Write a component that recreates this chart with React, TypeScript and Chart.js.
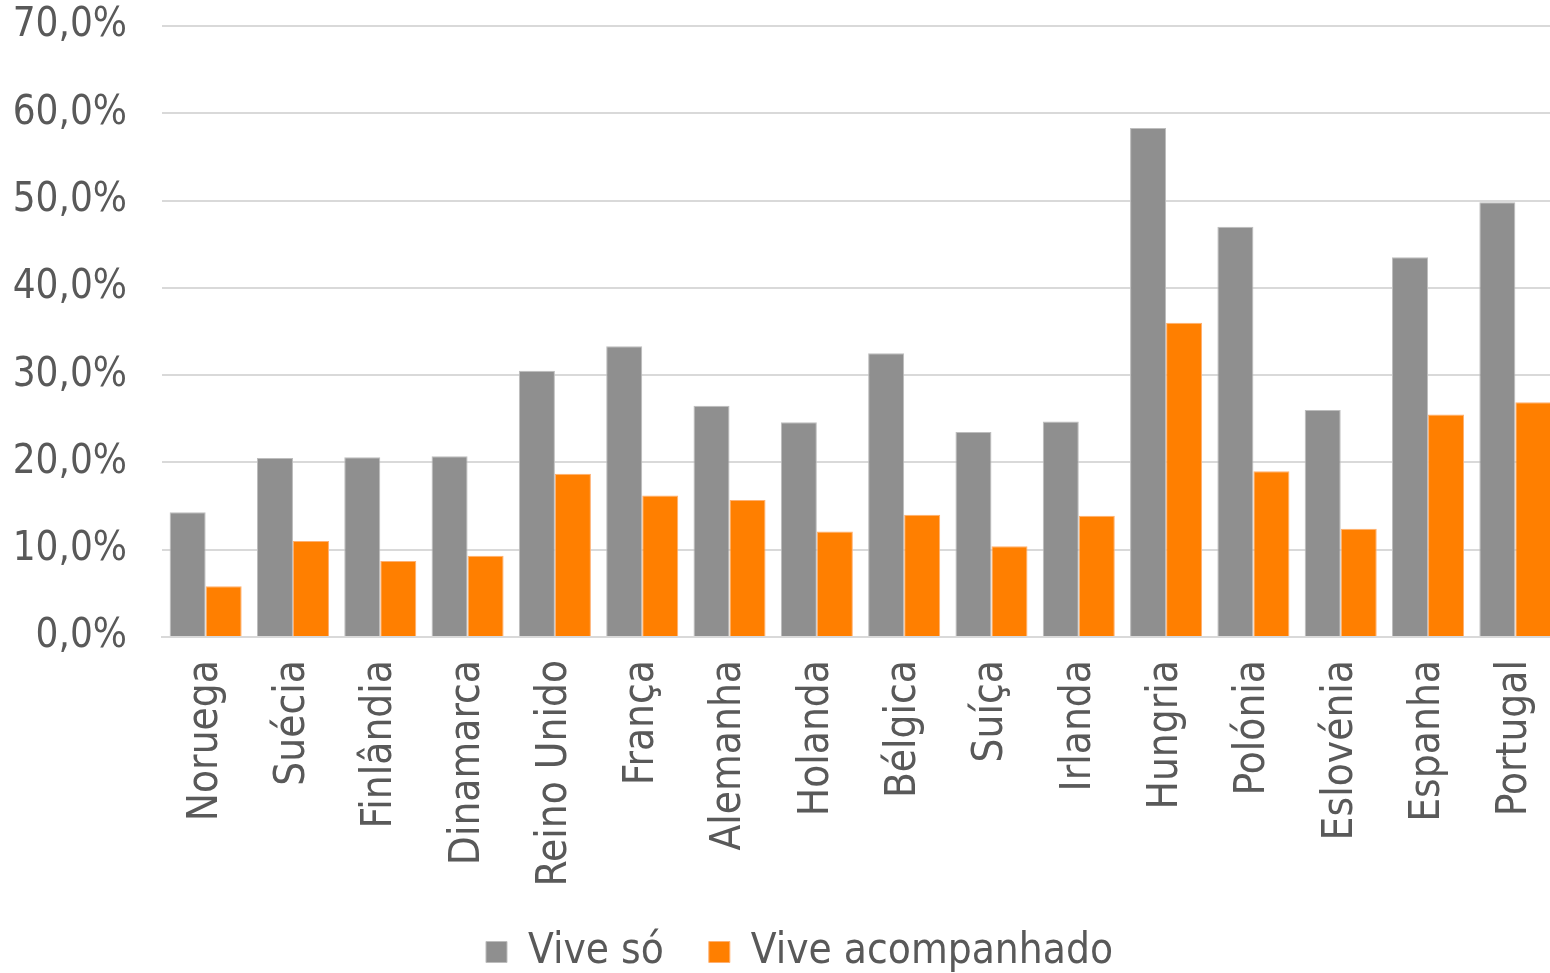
import React, { useEffect, useRef } from "react";
import { Chart, registerables } from "chart.js";

Chart.register(...registerables);

const countries = [
  "Noruega", "Suécia", "Finlândia", "Dinamarca", "Reino Unido", "França",
  "Alemanha", "Holanda", "Bélgica", "Suíça", "Irlanda", "Hungria",
  "Polónia", "Eslovénia", "Espanha", "Portugal",
];

const viveSo = [14.3, 20.5, 20.6, 20.7, 30.5, 33.3, 26.5, 24.6, 32.5, 23.5, 24.7, 58.3, 47.0, 26.0, 43.5, 49.8];
const viveAcompanhado = [5.8, 11.0, 8.7, 9.3, 18.7, 16.2, 15.7, 12.1, 14.0, 10.4, 13.9, 36.0, 19.0, 12.4, 25.5, 26.9];

const seriesNames = ["Vive só", "Vive acompanhado"];
const yTicks = [0, 10, 20, 30, 40, 50, 60, 70];

const FONT = "'DejaVu Sans Condensed', 'DejaVu Sans', sans-serif";
const TEXT = "#595959";

// Nudges the bottom legend a little to the right of the canvas centre.
const legendShift = {
  id: "legendShift",
  afterLayout(chart: any) {
    if (chart.legend) {
      chart.legend.left += 20;
      chart.legend.right += 20;
    }
  },
};

export default function App() {
  const ref = useRef<HTMLCanvasElement | null>(null);

  useEffect(() => {
    if (!ref.current) return;
    const chart = new Chart(ref.current, {
      type: "bar",
      data: {
        labels: countries,
        datasets: [
          {
            label: seriesNames[0],
            data: viveSo,
            backgroundColor: "#8f8f8f",
            borderColor: "#bdbdbd",
            borderWidth: 1,
          },
          {
            label: seriesNames[1],
            data: viveAcompanhado,
            backgroundColor: "#ff7f00",
            borderColor: "#ffb070",
            borderWidth: 1,
          },
        ],
      },
      plugins: [legendShift],
      options: {
        animation: false,
        responsive: false,
        maintainAspectRatio: false,
        datasets: { bar: { categoryPercentage: 0.825, barPercentage: 1 } },
        layout: { padding: { left: 0, right: 1, top: 26, bottom: -10 } },
        plugins: {
          tooltip: { enabled: false },
          legend: {
            position: "bottom",
            labels: {
              font: { family: FONT, size: 42 },
              color: TEXT,
              boxWidth: 21,
              boxHeight: 21,
              padding: 45,
            },
          },
        },
        scales: {
          x: {
            grid: { display: false },
            border: { display: true, color: "#d9d9d9", width: 2 },
            ticks: {
              font: { family: FONT, size: 42 },
              color: TEXT,
              minRotation: 90,
              maxRotation: 90,
              padding: 15,
              autoSkip: false,
            },
            afterFit: (s: any) => {
              s.height = 249;
              s.paddingLeft = 0;
              s.paddingRight = 0;
            },
          },
          y: {
            min: 0,
            max: 70,
            afterBuildTicks: (s: any) => {
              s.ticks = yTicks.map((v) => ({ value: v }));
            },
            grid: { color: "#d9d9d9", lineWidth: 2, drawTicks: false },
            border: { display: false },
            ticks: {
              font: { family: FONT, size: 40 },
              color: TEXT,
              padding: 35,
              callback: (v: any) => Number(v).toFixed(1).replace(".", ",") + "%",
            },
            afterFit: (s: any) => {
              s.width = 162;
              s.paddingTop = 0;
              s.paddingBottom = 0;
            },
          },
        },
      },
    });
    return () => chart.destroy();
  }, []);

  return (
    <div
      style={{
        position: "fixed",
        left: 0,
        top: 0,
        width: 1550,
        height: 973,
        overflow: "hidden",
        background: "#fff",
      }}
    >
      <canvas ref={ref} width={1560} height={973} style={{ display: "block" }} />
    </div>
  );
}
